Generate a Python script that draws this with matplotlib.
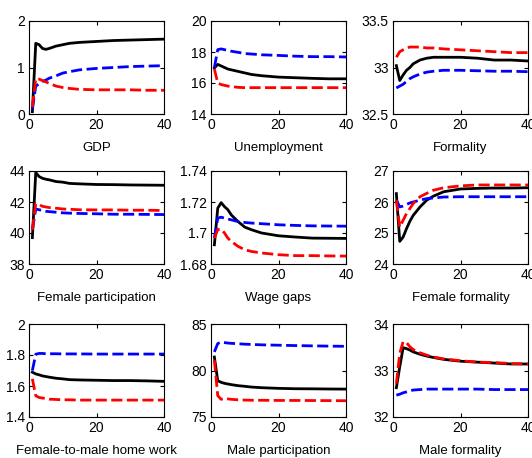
import matplotlib
matplotlib.use("Agg")
import matplotlib.pyplot as plt
from matplotlib.ticker import FormatStrFormatter

plt.rcParams['font.family'] = ['Liberation Sans', 'DejaVu Sans']
plt.rcParams['font.size'] = 9.5

# periods shown (read at these points from the reference)
periods = [1, 2, 3, 4, 5, 6, 8, 10, 12, 15, 20, 25, 30, 35, 40]

gdp_black = [0.05, 1.52, 1.49, 1.41, 1.39, 1.41, 1.46, 1.49, 1.52, 1.54, 1.56, 1.58, 1.59, 1.60, 1.61]
gdp_blue = [0.10, 0.60, 0.65, 0.70, 0.73, 0.77, 0.82, 0.88, 0.91, 0.95, 0.98, 1.00, 1.02, 1.03, 1.04]
gdp_red = [0.15, 0.76, 0.75, 0.72, 0.69, 0.66, 0.60, 0.57, 0.55, 0.53, 0.52, 0.52, 0.52, 0.51, 0.51]

unemp_black = [16.97, 17.20, 17.10, 17.00, 16.90, 16.85, 16.75, 16.65, 16.55, 16.47, 16.38, 16.34, 16.30, 16.27, 16.27]
unemp_blue = [17.00, 18.15, 18.20, 18.15, 18.10, 18.05, 17.98, 17.90, 17.87, 17.82, 17.78, 17.73, 17.70, 17.70, 17.68]
unemp_red = [16.90, 16.00, 15.90, 15.85, 15.80, 15.77, 15.72, 15.70, 15.70, 15.70, 15.70, 15.70, 15.70, 15.70, 15.70]

form_black = [33.02, 32.86, 32.92, 32.97, 33.00, 33.04, 33.08, 33.10, 33.11, 33.11, 33.11, 33.10, 33.08, 33.08, 33.07]
form_blue = [32.78, 32.80, 32.82, 32.85, 32.88, 32.90, 32.93, 32.95, 32.96, 32.97, 32.97, 32.965, 32.96, 32.96, 32.955]
form_red = [33.11, 33.17, 33.19, 33.21, 33.22, 33.22, 33.22, 33.21, 33.21, 33.20, 33.19, 33.18, 33.17, 33.16, 33.16]

fpart_black = [39.70, 43.90, 43.64, 43.53, 43.47, 43.43, 43.32, 43.28, 43.20, 43.17, 43.13, 43.12, 43.10, 43.09, 43.08]
fpart_blue = [40.20, 41.55, 41.50, 41.45, 41.40, 41.38, 41.34, 41.30, 41.28, 41.26, 41.24, 41.21, 41.21, 41.20, 41.19]
fpart_red = [40.20, 41.90, 41.83, 41.72, 41.68, 41.64, 41.60, 41.55, 41.53, 41.50, 41.49, 41.49, 41.47, 41.47, 41.45]

wage_black = [1.6924, 1.7160, 1.7196, 1.7170, 1.7150, 1.7117, 1.7074, 1.7038, 1.7021, 1.7000, 1.6982, 1.6974, 1.6967, 1.6966, 1.6965]
wage_blue = [1.6967, 1.7096, 1.7102, 1.7096, 1.7090, 1.7085, 1.7074, 1.7068, 1.7064, 1.7060, 1.7053, 1.7049, 1.7046, 1.7045, 1.7044]
wage_red = [1.6967, 1.7022, 1.7025, 1.7000, 1.6967, 1.6946, 1.6914, 1.6892, 1.6881, 1.6871, 1.6860, 1.6854, 1.6854, 1.6852, 1.6851]

fform_black = [26.27, 24.73, 24.87, 25.14, 25.38, 25.57, 25.84, 26.06, 26.19, 26.33, 26.42, 26.44, 26.45, 26.45, 26.46]
fform_blue = [26.06, 25.84, 25.87, 25.92, 25.97, 26.00, 26.06, 26.11, 26.13, 26.16, 26.17, 26.17, 26.17, 26.17, 26.17]
fform_red = [26.06, 25.19, 25.41, 25.63, 25.79, 25.95, 26.17, 26.28, 26.38, 26.46, 26.52, 26.55, 26.55, 26.55, 26.55]

home_black = [1.689, 1.678, 1.672, 1.665, 1.661, 1.657, 1.650, 1.646, 1.641, 1.639, 1.637, 1.635, 1.635, 1.633, 1.630]
home_blue = [1.700, 1.805, 1.810, 1.810, 1.808, 1.808, 1.808, 1.807, 1.807, 1.807, 1.806, 1.806, 1.806, 1.806, 1.806]
home_red = [1.646, 1.537, 1.526, 1.522, 1.520, 1.515, 1.513, 1.511, 1.511, 1.509, 1.509, 1.509, 1.509, 1.509, 1.509]

mpart_black = [81.45, 78.90, 78.73, 78.62, 78.55, 78.48, 78.37, 78.30, 78.22, 78.15, 78.08, 78.04, 78.03, 78.01, 78.00]
mpart_blue = [82.00, 82.90, 83.05, 83.00, 82.95, 82.92, 82.88, 82.83, 82.80, 82.76, 82.72, 82.68, 82.65, 82.62, 82.60]
mpart_red = [81.10, 77.30, 76.90, 77.00, 76.95, 76.90, 76.85, 76.82, 76.80, 76.80, 76.78, 76.78, 76.77, 76.76, 76.75]

mform_black = [32.63, 33.08, 33.49, 33.47, 33.44, 33.40, 33.35, 33.31, 33.28, 33.24, 33.20, 33.18, 33.16, 33.14, 33.14]
mform_blue = [32.47, 32.49, 32.52, 32.54, 32.56, 32.58, 32.59, 32.60, 32.60, 32.60, 32.60, 32.60, 32.59, 32.59, 32.59]
mform_red = [32.72, 33.37, 33.62, 33.60, 33.51, 33.45, 33.38, 33.33, 33.29, 33.25, 33.21, 33.18, 33.17, 33.15, 33.14]

titles = ["GDP", "Unemployment", "Formality",
          "Female participation", "Wage gaps", "Female formality",
          "Female-to-male home work", "Male participation", "Male formality"]
series = [(gdp_black, gdp_blue, gdp_red), (unemp_black, unemp_blue, unemp_red),
          (form_black, form_blue, form_red), (fpart_black, fpart_blue, fpart_red),
          (wage_black, wage_blue, wage_red), (fform_black, fform_blue, fform_red),
          (home_black, home_blue, home_red), (mpart_black, mpart_blue, mpart_red),
          (mform_black, mform_blue, mform_red)]
yticks = [[0, 1, 2], [14, 16, 18, 20], [32.5, 33, 33.5],
          [38, 40, 42, 44], [1.68, 1.70, 1.72, 1.74], [24, 25, 26, 27],
          [1.4, 1.6, 1.8, 2.0], [75, 80, 85], [32, 33, 34]]

W, H = 532, 458
fig = plt.figure(figsize=(W / 100, H / 100), dpi=100)

col_left = [29, 211, 393]
col_w = 135
row_top = [21, 171, 324]
row_h = 93

for i, title in enumerate(titles):
    r, c = divmod(i, 3)
    ax = fig.add_axes([col_left[c] / W, 1 - (row_top[r] + row_h) / H, col_w / W, row_h / H])
    black, blue, red = series[i]
    ax.plot(periods, black, color='black', lw=2.0)
    ax.plot(periods, blue, color=(0, 0, 1), lw=2.0, dashes=(4, 1.6))
    ax.plot(periods, red, color=(1, 0, 0), lw=2.0, dashes=(4, 1.6))
    ax.set_xlim(0, 40)
    ax.set_xticks([0, 20, 40])
    ax.set_ylim(yticks[i][0], yticks[i][-1])
    ax.set_yticks(yticks[i])
    ax.yaxis.set_major_formatter(FormatStrFormatter('%g'))
    ax.tick_params(direction='in', top=True, right=True, length=3, width=0.8,
                   pad=3, labelsize=10)
    for s in ax.spines.values():
        s.set_linewidth(0.8)
    ax.set_xlabel(title, labelpad=7)

fig.savefig("out.png", dpi=100)
